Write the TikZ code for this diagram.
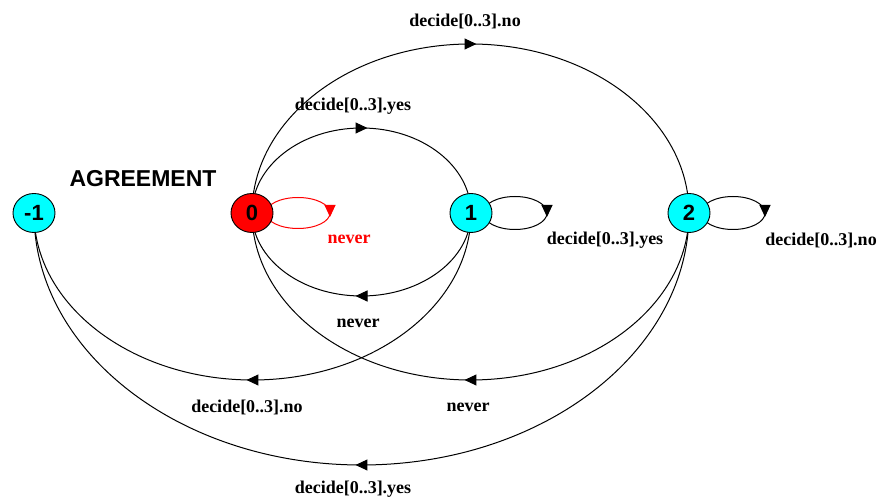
\documentclass[tikz,border=0pt]{standalone}
\usepackage{fontspec}
\setmainfont{Liberation Serif}
\newfontfamily\arialfont{Liberation Sans}
\usetikzlibrary{arrows.meta,decorations.markings,shapes.geometric,backgrounds}
\definecolor{stcyan}{RGB}{0,255,255}
\definecolor{stred}{RGB}{255,0,0}
\begin{document}
\begin{tikzpicture}[x=1pt,y=1pt,
  state/.style={ellipse,draw=black,line width=0.9pt,minimum width=42pt,minimum height=39pt,inner sep=0pt,font=\arialfont\bfseries\fontsize{22}{22}\selectfont},
  lbl/.style={font=\bfseries\fontsize{18}{18}\selectfont},
  edge/.style={line width=1pt,postaction={decorate},decoration={markings,mark=at position 0.5 with {\arrow[xshift=6pt]{Triangle[length=12pt,width=11pt]}}}},
  loopedge/.style={line width=1pt,postaction={decorate},decoration={markings,mark=at position 0.5 with {\arrow[xshift=4pt]{Triangle[length=12pt,width=11pt]}}}},
]
\useasboundingbox (0,0) rectangle (879,503);
\node[state,fill=stcyan] (nm1) at (34,290) {-1};
\node[state,fill=stred] (n0) at (252,290) {0};
\node[state,fill=stcyan] (n1) at (471,290) {1};
\node[state,fill=stcyan] (n2) at (689,290) {2};
\node[font=\arialfont\bfseries\fontsize{23}{23}\selectfont] (agr) at (143,324) {AGREEMENT};
\begin{scope}[on background layer]
  \draw[edge] (n0.center) arc[start angle=180,end angle=0,x radius=109.5,y radius=85];
  \draw[edge] (n0.center) arc[start angle=180,end angle=0,x radius=218.5,y radius=169];
  \draw[edge] (n1.center) arc[start angle=0,end angle=-180,x radius=109.5,y radius=83];
  \draw[edge] (n2.center) arc[start angle=0,end angle=-180,x radius=218.5,y radius=167];
  \draw[edge] (n1.center) arc[start angle=0,end angle=-180,x radius=218.5,y radius=167];
  \draw[edge] (n2.center) arc[start angle=0,end angle=-180,x radius=327.5,y radius=252];
  \draw[loopedge,stred] ([xshift=14pt]n0.center) arc[start angle=180,end angle=-180,x radius=32,y radius=15.5];
  \draw[loopedge] ([xshift=12pt]n1.center) arc[start angle=180,end angle=-180,x radius=32,y radius=16.5];
  \draw[loopedge] ([xshift=12pt]n2.center) arc[start angle=180,end angle=-180,x radius=32,y radius=16.5];
\end{scope}
\node[lbl] (l01) at (353,397) {decide[0..3].yes};
\node[lbl] (l02) at (465,482) {decide[0..3].no};
\node[lbl,stred] (l00) at (349,264) {never};
\node[lbl] (l11) at (605,263) {decide[0..3].yes};
\node[lbl] (l22) at (821,263) {decide[0..3].no};
\node[lbl] (l10) at (358,180) {never};
\node[lbl] (l20) at (468,96) {never};
\node[lbl] (l1m) at (247,96) {decide[0..3].no};
\node[lbl] (l2m) at (353,14) {decide[0..3].yes};
\end{tikzpicture}
\end{document}
